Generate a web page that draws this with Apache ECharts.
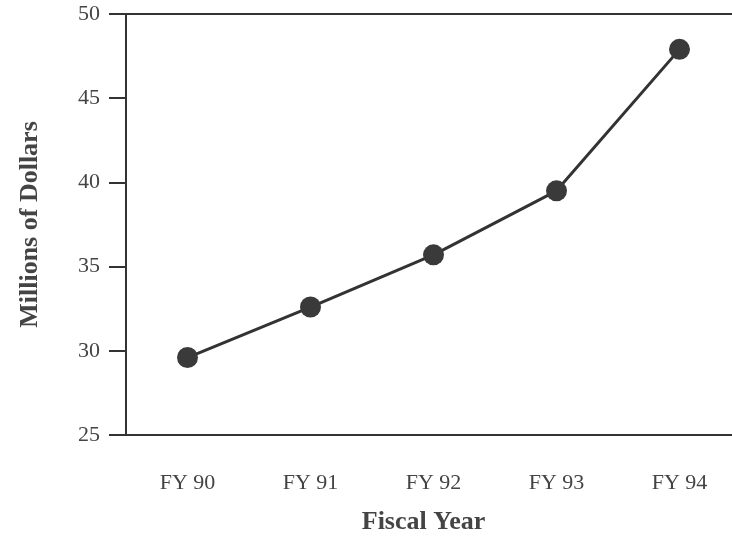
<!DOCTYPE html>
<html>
<head>
<meta charset="utf-8">
<script src="https://cdn.jsdelivr.net/npm/echarts@6/dist/echarts.min.js"></script>
<style>
  html, body { margin: 0; padding: 0; background: #fff; }
  #chart { width: 732px; height: 539px; }
</style>
</head>
<body>
<div id="chart"></div>
<script>
// data
const years = ["FY 90", "FY 91", "FY 92", "FY 93", "FY 94"];
const dollars = [29.6, 32.6, 35.7, 39.5, 47.9]; // millions
const yMin = 25, yMax = 50, yStep = 5;

const ink = "#333";
const textInk = "#444";
const serif = "Liberation Serif";

const chart = echarts.init(document.getElementById("chart"));
chart.setOption({
  animation: false,
  backgroundColor: "#fff",
  textStyle: { fontFamily: serif },
  // plot runs past the right edge of the page, like the scan
  grid: { left: 126, width: 615, top: 14, bottom: 104, outerBoundsMode: "none", containLabel: false },
  xAxis: [
    {
      type: "category",
      data: years,
      boundaryGap: true,
      name: "Fiscal Year",
      nameLocation: "middle",
      nameGap: 74,
      nameTextStyle: { fontFamily: serif, fontSize: 26, fontWeight: "bold", color: textInk, padding: [0, 20, 0, 0] },
      axisLine: { lineStyle: { color: ink, width: 2 } },
      axisTick: { alignWithLabel: true, length: 12, lineStyle: { color: ink, width: 2 } },
      axisLabel: { fontFamily: serif, fontSize: 22, color: textInk, margin: 37 },
    },
    {
      // top frame line
      type: "category",
      data: years,
      position: "top",
      axisLine: { lineStyle: { color: ink, width: 2 } },
      axisTick: { show: false },
      axisLabel: { show: false },
    },
  ],
  yAxis: {
    type: "value",
    min: yMin,
    max: yMax,
    interval: yStep,
    name: "Millions of Dollars",
    nameLocation: "middle",
    nameGap: 83,
    nameTextStyle: { fontFamily: serif, fontSize: 26, fontWeight: "bold", color: textInk },
    axisLine: { show: true, lineStyle: { color: ink, width: 2 } },
    axisTick: { show: true, length: 17, lineStyle: { color: ink, width: 2 } },
    axisLabel: { fontFamily: serif, fontSize: 22, color: textInk, margin: 26 },
    splitLine: { show: false },
  },
  series: [
    {
      type: "line",
      data: dollars,
      symbol: "circle",
      symbolSize: 21,
      lineStyle: { color: ink, width: 3 },
      itemStyle: { color: "#3a3a3a" },
    },
  ],
});
</script>
</body>
</html>
